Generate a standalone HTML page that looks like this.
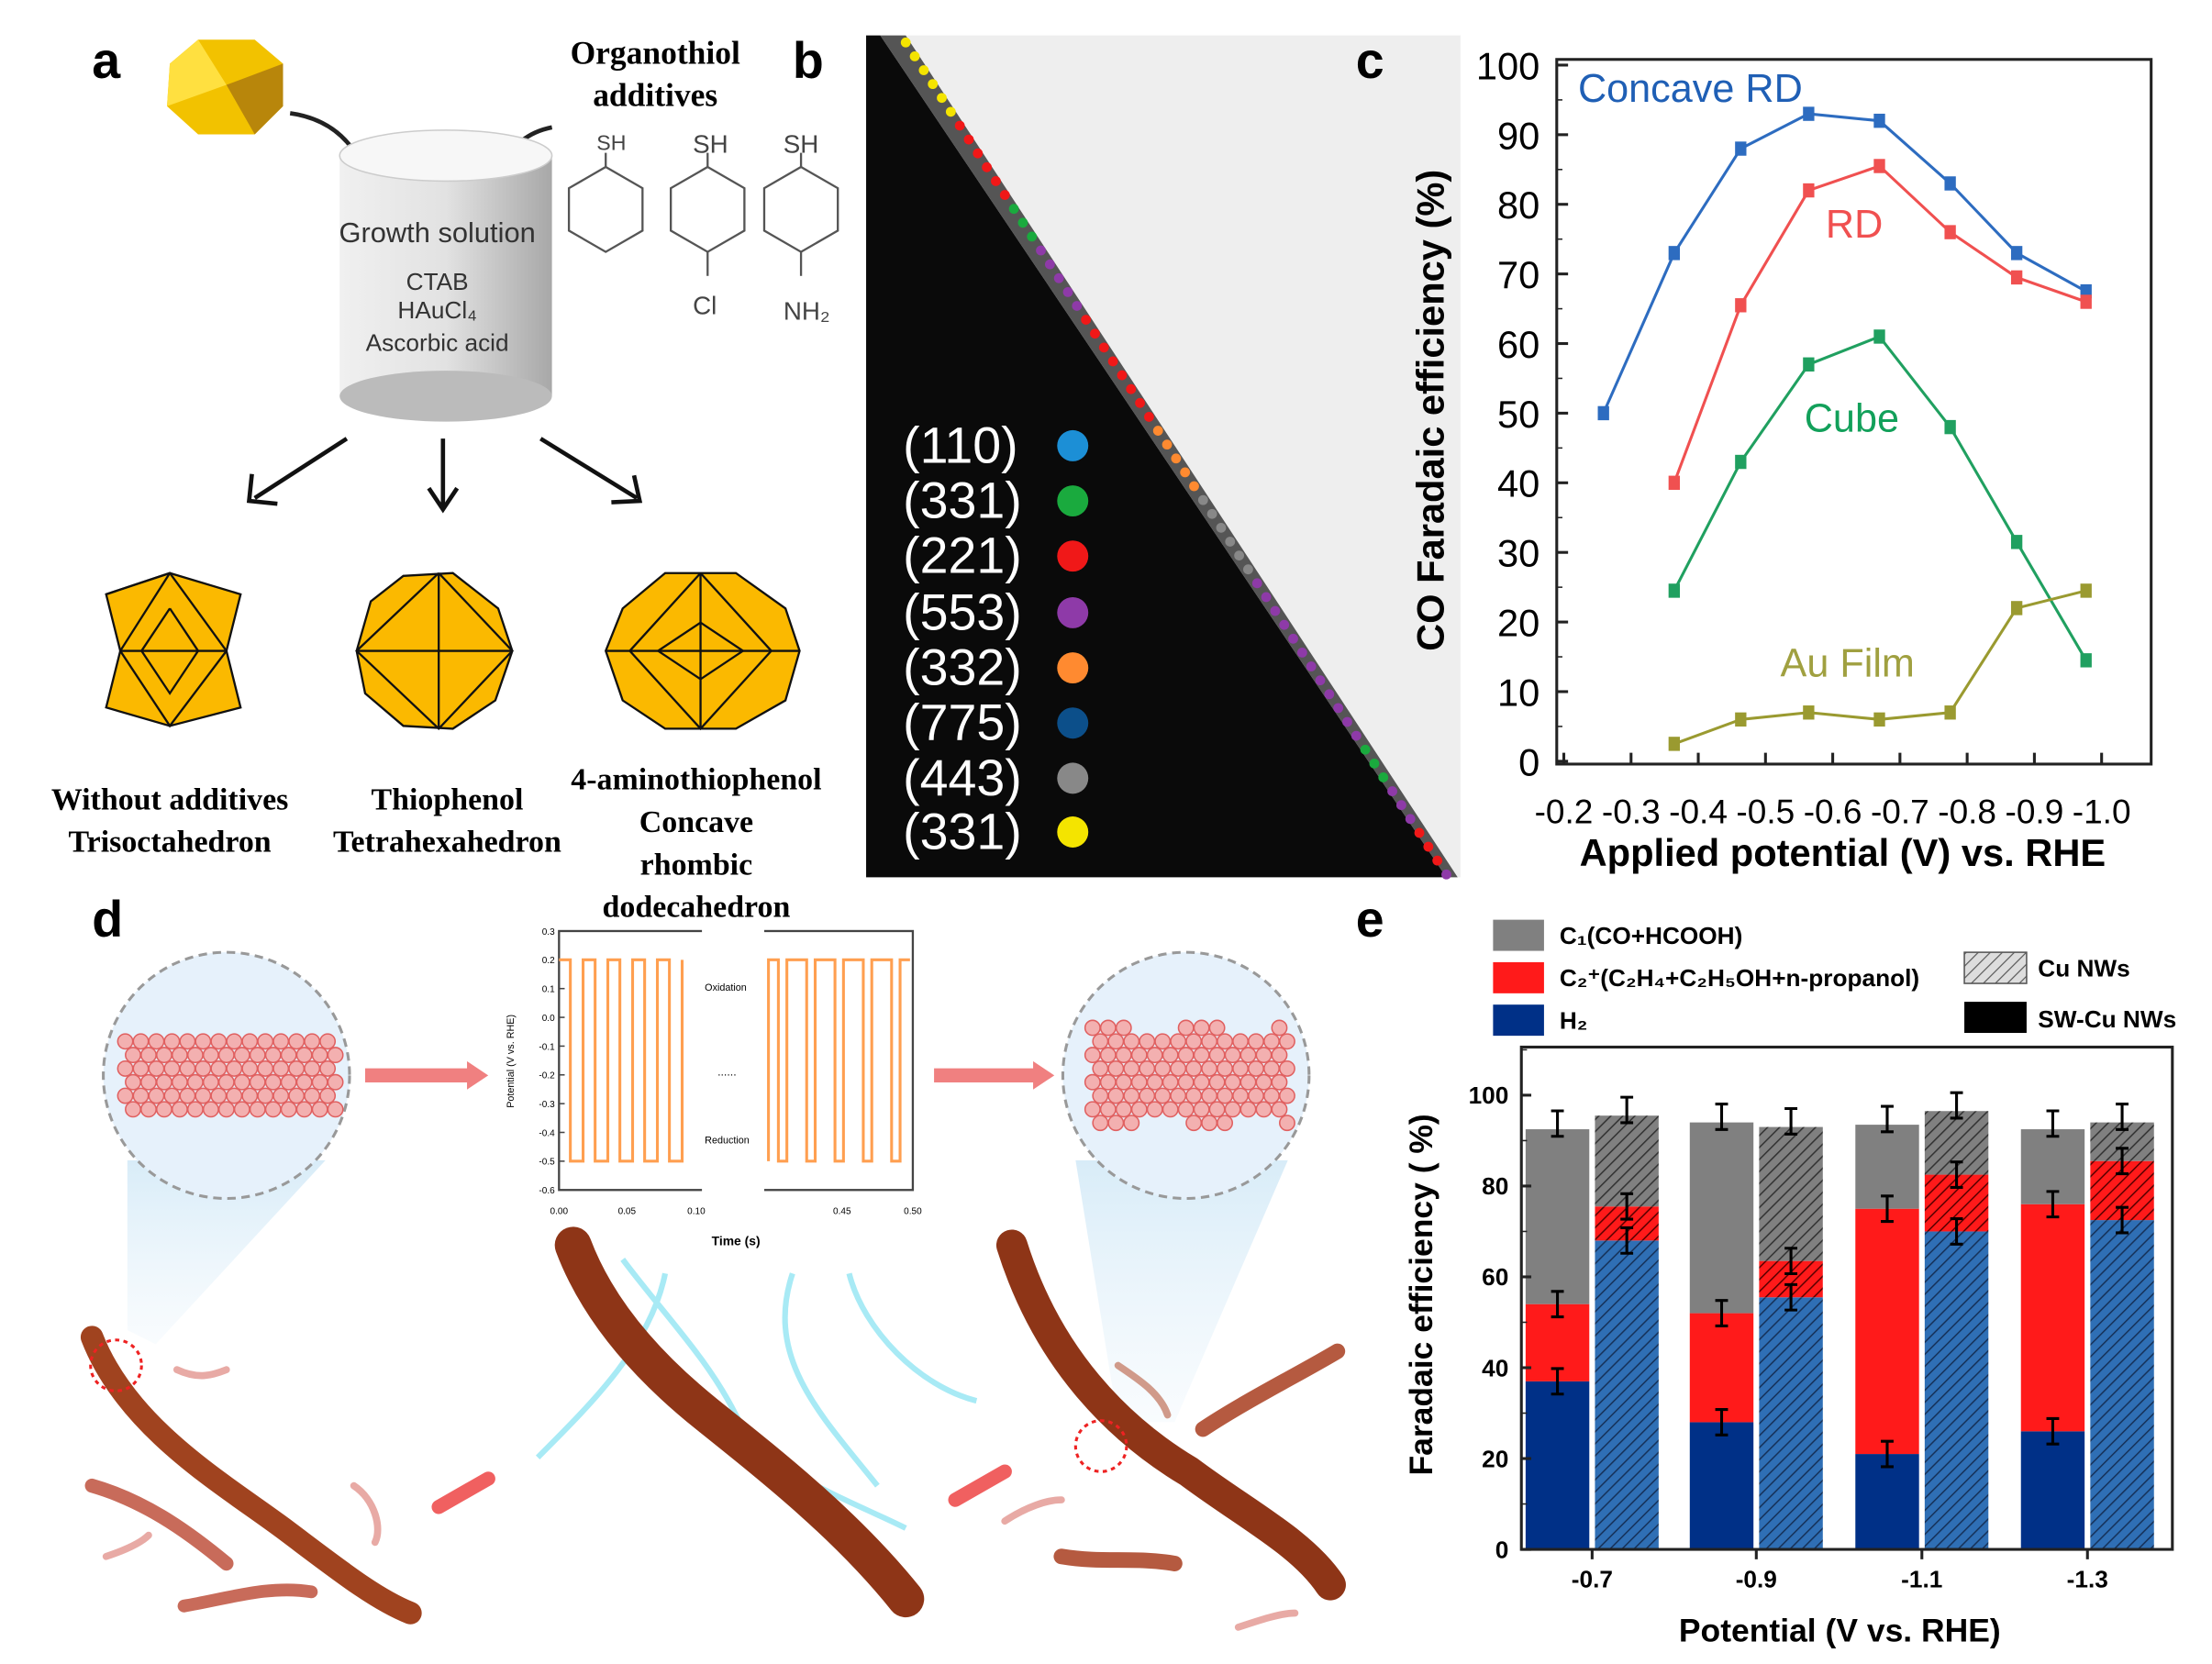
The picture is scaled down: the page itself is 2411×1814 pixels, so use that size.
<!DOCTYPE html>
<html><head><meta charset="utf-8"><style>
html,body{margin:0;padding:0;background:#fff}
svg{display:block}
text{font-family:"Liberation Sans",sans-serif}
.serif{font-family:"Liberation Serif",serif;font-weight:bold}
</style></head><body>
<svg id="s" width="2411" height="1814" viewBox="0 0 1563 1176" preserveAspectRatio="none" xmlns="http://www.w3.org/2000/svg">
<defs>
<pattern id="hb" width="6" height="6" patternUnits="userSpaceOnUse" patternTransform="rotate(45)"><rect width="6" height="6" fill="#2f6fb5"/><line x1="0" y1="0" x2="0" y2="6" stroke="#16325a" stroke-width="2"/></pattern>
<pattern id="hr" width="6" height="6" patternUnits="userSpaceOnUse" patternTransform="rotate(45)"><rect width="6" height="6" fill="#ff1a1a"/><line x1="0" y1="0" x2="0" y2="6" stroke="#5a0000" stroke-width="2"/></pattern>
<pattern id="hg" width="6" height="6" patternUnits="userSpaceOnUse" patternTransform="rotate(45)"><rect width="6" height="6" fill="#808080"/><line x1="0" y1="0" x2="0" y2="6" stroke="#333" stroke-width="2"/></pattern>
<pattern id="hl" width="6" height="6" patternUnits="userSpaceOnUse" patternTransform="rotate(45)"><rect width="6" height="6" fill="#ddd"/><line x1="0" y1="0" x2="0" y2="6" stroke="#555" stroke-width="1.5"/></pattern>
<linearGradient id="cyl" x1="0" x2="1"><stop offset="0" stop-color="#f0f0f0"/><stop offset="0.5" stop-color="#e2e2e2"/><stop offset="1" stop-color="#a8a8a8"/></linearGradient>
<linearGradient id="blu" x1="0" x2="0" y1="0" y2="1"><stop offset="0" stop-color="#d8ecf8"/><stop offset="1" stop-color="#eaf4fb" stop-opacity="0.3"/></linearGradient>
</defs>
<rect width="1563" height="1176" fill="#fff"/>

<!-- Panel a -->
<text x="65" y="55" font-size="36" font-weight="bold">a</text>
<polygon points="120,45 140,28 180,28 200,45 200,75 180,95 140,95 118,75" fill="#f2c200"/>
<polygon points="160,60 200,45 200,75 180,95" fill="#b8860b"/>
<polygon points="120,45 140,28 160,60 118,75" fill="#ffe040"/>
<path d="M205,80 Q240,85 255,115" fill="none" stroke="#222" stroke-width="3"/>
<path d="M390,90 Q365,95 355,118" fill="none" stroke="#222" stroke-width="3"/>
<text x="463" y="45" class="serif" font-size="23" text-anchor="middle">Organothiol</text>
<text x="463" y="75" class="serif" font-size="23" text-anchor="middle">additives</text>
<rect x="240" y="110" width="150" height="170" fill="url(#cyl)"/>
<ellipse cx="315" cy="280" rx="75" ry="18" fill="#bbb"/>
<ellipse cx="315" cy="110" rx="75" ry="18" fill="#f7f7f7" stroke="#ccc"/>
<text x="309" y="171" font-size="20" text-anchor="middle" fill="#333">Growth solution</text>
<text x="309" y="205" font-size="17" text-anchor="middle" fill="#333">CTAB</text>
<text x="309" y="225" font-size="17" text-anchor="middle" fill="#333">HAuCl₄</text>
<text x="309" y="248" font-size="17" text-anchor="middle" fill="#333">Ascorbic acid</text>
<g fill="none" stroke="#555" stroke-width="1.5">
<polygon points="428,118 454,133 454,163 428,178 402,163 402,133"/><line x1="428" y1="118" x2="428" y2="108"/>
<polygon points="500,118 526,133 526,163 500,178 474,163 474,133"/><line x1="500" y1="118" x2="500" y2="108"/><line x1="500" y1="178" x2="500" y2="195"/>
<polygon points="566,118 592,133 592,163 566,178 540,163 540,133"/><line x1="566" y1="118" x2="566" y2="108"/><line x1="566" y1="178" x2="566" y2="195"/>
</g>
<text x="432" y="106" font-size="15" text-anchor="middle" fill="#444">SH</text>
<text x="502" y="108" font-size="18" text-anchor="middle" fill="#444">SH</text>
<text x="566" y="108" font-size="18" text-anchor="middle" fill="#444">SH</text>
<text x="498" y="222" font-size="18" text-anchor="middle" fill="#444">Cl</text>
<text x="570" y="226" font-size="18" text-anchor="middle" fill="#444">NH₂</text>
<g stroke="#111" stroke-width="3" fill="none">
<line x1="245" y1="310" x2="180" y2="352"/><polyline points="178,335 176,354 196,356"/>
<line x1="313" y1="310" x2="313" y2="358"/><polyline points="303,345 313,360 323,345"/>
<line x1="382" y1="310" x2="450" y2="352"/><polyline points="432,355 452,354 448,336"/>
</g>
<g fill="#fbb900" stroke="#111" stroke-width="1.5">
<polygon points="75,420 120,405 170,420 160,460 170,500 120,513 75,500 85,460"/>
<line x1="85" y1="460" x2="160" y2="460"/><polyline points="75,420 120,405 160,460 120,513 85,460 120,405" fill="none"/><polyline points="120,430 140,460 120,490 100,460 120,430" fill="none"/>
<polygon points="285,407 320,405 352,430 362,460 350,495 320,515 285,513 258,490 252,460 262,425"/>
<line x1="252" y1="460" x2="362" y2="460"/><line x1="310" y1="405" x2="310" y2="515"/><polyline points="310,405 362,460 310,515 252,460 310,405" fill="none"/>
<polygon points="470,405 520,405 555,430 565,460 555,495 520,515 470,515 440,495 428,460 440,430"/>
<line x1="428" y1="460" x2="565" y2="460"/><polyline points="495,405 545,460 495,515 445,460 495,405" fill="none"/><polyline points="495,440 525,460 495,480 465,460 495,440" fill="none"/><line x1="495" y1="405" x2="495" y2="515"/>
</g>
<text x="120" y="572" class="serif" font-size="22" text-anchor="middle">Without  additives</text>
<text x="120" y="602" class="serif" font-size="22" text-anchor="middle">Trisoctahedron</text>
<text x="316" y="572" class="serif" font-size="22" text-anchor="middle">Thiophenol</text>
<text x="316" y="602" class="serif" font-size="22" text-anchor="middle">Tetrahexahedron</text>
<text x="492" y="558" class="serif" font-size="22" text-anchor="middle">4-aminothiophenol</text>
<text x="492" y="588" class="serif" font-size="22" text-anchor="middle">Concave</text>
<text x="492" y="618" class="serif" font-size="22" text-anchor="middle">rhombic</text>
<text x="492" y="648" class="serif" font-size="22" text-anchor="middle">dodecahedron</text>

<!-- Panel b -->
<text x="560" y="55" font-size="36" font-weight="bold">b</text>
<rect x="612" y="25" width="420" height="595" fill="#eeeeee"/>
<polygon points="612,25 622,25 1022,620 612,620" fill="#0a0a0a"/>
<polygon points="622,25 640,25 1030,620 1022,620" fill="#555"/>
<g id="dots"></g>
<g font-size="36" fill="#fff">
<text x="638" y="327">(110)</text><text x="638" y="366">(331)</text><text x="638" y="405">(221)</text><text x="638" y="445">(553)</text>
<text x="638" y="484">(332)</text><text x="638" y="523">(775)</text><text x="638" y="562">(443)</text><text x="638" y="600">(331)</text>
</g>
<g>
<circle cx="758" cy="315" r="11" fill="#1c8fd6"/><circle cx="758" cy="354" r="11" fill="#1aaa3e"/><circle cx="758" cy="393" r="11" fill="#f01818"/><circle cx="758" cy="433" r="11" fill="#8e3aa8"/>
<circle cx="758" cy="472" r="11" fill="#ff8a30"/><circle cx="758" cy="511" r="11" fill="#0c4f8a"/><circle cx="758" cy="550" r="11" fill="#888"/><circle cx="758" cy="588" r="11" fill="#f4e400"/>
</g>

<!-- Panel c -->
<text x="958" y="55" font-size="36" font-weight="bold">c</text>
<rect x="1100" y="42" width="420" height="498" fill="none" stroke="#222" stroke-width="2"/>
<g id="cax"></g>
<text transform="translate(1020,290) rotate(-90)" font-size="27" font-weight="bold" text-anchor="middle">CO Faradaic efficiency (%)</text>
<text x="1302" y="612" font-size="27" font-weight="bold" text-anchor="middle">Applied potential (V) vs. RHE</text>
<g id="cser"></g>
<text x="1115" y="72" font-size="28" fill="#1f5fb5">Concave RD</text>
<text x="1290" y="168" font-size="28" fill="#f05050">RD</text>
<text x="1275" y="305" font-size="28" fill="#12a05a">Cube</text>
<text x="1258" y="478" font-size="28" fill="#a0a040">Au Film</text>

<!-- Panel d -->
<text x="65" y="662" font-size="36" font-weight="bold">d</text>
<polygon points="90,820 230,820 110,950 90,940" fill="url(#blu)"/>
<polygon points="760,820 910,820 830,1005 790,1005" fill="url(#blu)"/>
<circle cx="160" cy="760" r="87" fill="#e6f1fb" stroke="#999" stroke-dasharray="6,4" stroke-width="2"/>
<circle cx="838" cy="760" r="87" fill="#e6f1fb" stroke="#999" stroke-dasharray="6,4" stroke-width="2"/>
<g id="atoms"></g>
<polygon points="258,755 330,755 330,750 345,760 330,770 330,765 258,765" fill="#f08080"/>
<polygon points="660,755 730,755 730,750 745,760 730,770 730,765 660,765" fill="#f08080"/>
<g id="inset"></g>
<path d="M440,890 C470,930 500,960 520,1000 C540,1040 600,1060 640,1080 M470,900 C460,950 420,990 380,1030 M560,900 C540,960 580,1000 620,1050 M600,900 C610,940 650,980 690,990" stroke="#a8eaf5" stroke-width="4" fill="none"/>
<g stroke-linecap="round" fill="none">
<path d="M65,945 C90,1010 160,1050 200,1080 C240,1110 265,1130 290,1140" stroke="#a0431f" stroke-width="16"/>
<path d="M65,1050 C100,1060 130,1080 160,1105" stroke="#c86b5a" stroke-width="10"/>
<path d="M130,1135 C160,1130 190,1120 220,1125" stroke="#c86b5a" stroke-width="9"/>
<path d="M125,968 C140,975 150,972 160,968" stroke="#e8aaa5" stroke-width="5"/>
<path d="M75,1100 C90,1095 100,1090 105,1085" stroke="#e8aaa5" stroke-width="5"/>
<path d="M250,1050 C265,1060 270,1080 265,1090" stroke="#e8aaa5" stroke-width="5"/>
<path d="M310,1065 L345,1045" stroke="#f06060" stroke-width="10"/>
<path d="M405,880 C420,920 450,960 500,1000 C550,1040 600,1080 640,1130" stroke="#8e3517" stroke-width="26"/>
<path d="M675,1060 L710,1040" stroke="#f06060" stroke-width="10"/>
<path d="M715,880 C740,960 790,1010 840,1040 C880,1070 920,1090 940,1120" stroke="#8e3517" stroke-width="22"/>
<path d="M850,1010 C880,990 920,970 945,955" stroke="#b55a40" stroke-width="11"/>
<path d="M750,1100 C780,1105 800,1100 830,1105" stroke="#b55a40" stroke-width="11"/>
<path d="M790,965 C805,975 820,985 825,1000" stroke="#d09a8a" stroke-width="5"/>
<path d="M710,1075 C725,1065 740,1060 750,1060" stroke="#e8aaa5" stroke-width="5"/>
<path d="M875,1150 C890,1145 905,1140 915,1140" stroke="#e8aaa5" stroke-width="5"/>
</g>
<circle cx="82" cy="965" r="18" fill="none" stroke="#e22" stroke-dasharray="3,3" stroke-width="2"/>
<circle cx="778" cy="1022" r="18" fill="none" stroke="#e22" stroke-dasharray="3,3" stroke-width="2"/>

<!-- Panel e -->
<text x="958" y="662" font-size="36" font-weight="bold">e</text>
<rect x="1055" y="650" width="36" height="22" fill="#808080"/><text x="1102" y="667" font-size="17" font-weight="bold">C₁(CO+HCOOH)</text>
<rect x="1055" y="680" width="36" height="22" fill="#ff1a1a"/><text x="1102" y="697" font-size="17" font-weight="bold">C₂⁺(C₂H₄+C₂H₅OH+n-propanol)</text>
<rect x="1055" y="710" width="36" height="22" fill="#003087"/><text x="1102" y="727" font-size="17" font-weight="bold">H₂</text>
<rect x="1388" y="673" width="44" height="22" fill="url(#hl)" stroke="#555"/><text x="1440" y="690" font-size="17" font-weight="bold">Cu NWs</text>
<rect x="1388" y="708" width="44" height="22" fill="#000"/><text x="1440" y="726" font-size="17" font-weight="bold">SW-Cu NWs</text>
<g id="bars"></g>
<rect x="1075" y="740" width="460" height="355" fill="none" stroke="#222" stroke-width="2"/>
<g id="eax"></g>
<text transform="translate(1012,915) rotate(-90)" font-size="23" font-weight="bold" text-anchor="middle">Faradaic efficiency ( %)</text>
<text x="1300" y="1160" font-size="23" font-weight="bold" text-anchor="middle">Potential (V vs. RHE)</text>
</svg>
<script>
const NS="http://www.w3.org/2000/svg";
function el(p,t,a,txt){const e=document.createElementNS(NS,t);for(const k in a)e.setAttribute(k,a[k]);if(txt!==undefined)e.textContent=txt;document.getElementById(p).appendChild(e);return e;}
// dots in b
const dc=[["#f4e400",6],["#f01818",6],["#1aaa3e",3],["#8e3aa8",5],["#f01818",8],["#ff8a30",5],["#888",6],["#8e3aa8",12],["#1aaa3e",3],["#8e3aa8",3],["#f01818",3],["#8e3aa8",1]];
let t=0;const N=dc.reduce((a,b)=>a+b[1],0);
dc.forEach(([c,n])=>{for(let i=0;i<n;i++){const f=t/(N-1);el("dots","circle",{cx:640+f*382,cy:30+f*588,r:3.5,fill:c});t++;}});
// c axes
for(let v=0;v<=100;v+=10){const y=538-v*4.92;el("cax","line",{x1:1100,y1:y,x2:1108,y2:y,stroke:"#222","stroke-width":2});el("cax","text",{x:1088,y:y+10,"font-size":27,"text-anchor":"end"},v);if(v<100)el("cax","line",{x1:1100,y1:y-24.6,x2:1104,y2:y-24.6,stroke:"#222"});}
for(let i=0;i<=8;i++){const x=1105+47.5*i;el("cax","line",{x1:x,y1:540,x2:x,y2:532,stroke:"#222","stroke-width":2});el("cax","text",{x:x,y:582,"font-size":24,"text-anchor":"middle"},"-"+(0.2+i*0.1).toFixed(1));}
const X=[1133,1183,1230,1278,1328,1378,1425,1474];
function ser(xs,ys,c){el("cser","polyline",{points:xs.map((x,i)=>x+","+(538-ys[i]*4.92)).join(" "),fill:"none",stroke:c,"stroke-width":2});xs.forEach((x,i)=>el("cser","rect",{x:x-4,y:538-ys[i]*4.92-5,width:8,height:10,fill:c}));}
ser(X,[50,73,88,93,92,83,73,67.5],"#2d6cc0");
ser(X.slice(1),[40,65.5,82,85.5,76,69.5,66],"#f05050");
ser(X.slice(1),[24.5,43,57,61,48,31.5,14.5],"#20a060");
ser(X.slice(1),[2.5,6,7,6,7,22,24.5],"#9a9a30");
// atoms
function lattice(cx,cy,rows,cols,wavy){for(let r=0;r<rows;r++)for(let c=0;c<cols;c++){let x=cx-(cols-1)*5.5+c*11+(r%2?5.5:0);let y=cy-(rows-1)*4.8+r*9.6;if(wavy){const k=Math.floor(c/3)%2;if((r==0||r==rows-1)&&k)continue;}el("atoms","circle",{cx:x,cy:y,r:5.3,fill:"#f3b0b0",stroke:"#e06060","stroke-width":1});}}
lattice(160,760,6,14,false);lattice(838,760,8,13,true);
// inset
const I="inset";el(I,"rect",{x:395,y:658,width:250,height:183,fill:"#fff",stroke:"#444","stroke-width":1.5});
const yv=v=>658+(0.3-v)*203.3;
for(let v=-6;v<=3;v++){const y=yv(v/10);el(I,"line",{x1:395,y1:y,x2:399,y2:y,stroke:"#444"});el(I,"text",{x:392,y:y+2.5,"font-size":6.5,"text-anchor":"end"},(v/10).toFixed(1));}
let p="M395,"+yv(0.2);let x=395;const hi=yv(0.2),lo=yv(-0.5);
for(let k=0;k<5;k++){p+=` L${x+8},${hi} L${x+8},${lo} L${x+17},${lo} L${x+17},${hi}`;x+=17.5;}
p+=" M543,"+lo+" L543,"+hi;x=543;
for(let k=0;k<5;k++){p+=` L${x+7},${hi} L${x+7},${lo} L${x+13},${lo} L${x+13},${hi} L${x+20},${hi}`;x+=20;}
el(I,"path",{d:p,fill:"none",stroke:"#ff9f50","stroke-width":2});
el(I,"rect",{x:496,y:656,width:44,height:4,fill:"#fff"});el(I,"rect",{x:496,y:839,width:44,height:4,fill:"#fff"});
el(I,"text",{x:498,y:700,"font-size":7},"Oxidation");el(I,"text",{x:498,y:808,"font-size":7},"Reduction");el(I,"text",{x:507,y:760,"font-size":8},"......");
[["0.00",395],["0.05",443],["0.10",492],["0.45",595],["0.50",645]].forEach(a=>el(I,"text",{x:a[1],y:858,"font-size":6.5,"text-anchor":"middle"},a[0]));
el(I,"text",{x:520,y:880,"font-size":9,"font-weight":"bold","text-anchor":"middle"},"Time (s)");
el(I,"text",{transform:"translate(363,750) rotate(-90)","font-size":7,"text-anchor":"middle"},"Potential (V vs. RHE)");
// bars e
const ye=v=>1095-v*3.21;const C=[1127,1243,1360,1477];
const L=[[37,54,92.5],[28,52,94],[21,75,93.5],[26,76,92.5]],R=[[68,75.5,95.5],[55.5,63.5,93],[70,82.5,96.5],[72.5,85.5,94]];
function bar(x,d,fills){let prev=0;d.forEach((v,i)=>{el("bars","rect",{x:x,y:ye(v),width:45,height:(v-prev)*3.21,fill:fills[i]});prev=v;});d.forEach(v=>{const y=ye(v)+(v>90?-4:0);el("bars","path",{d:`M${x+22.5},${y-9} v18 M${x+18},${y-9} h9 M${x+18},${y+9} h9`,stroke:"#000","stroke-width":2,fill:"none"});});}
C.forEach((c,i)=>{bar(c-49,L[i],["#003087","#ff1a1a","#808080"]);bar(c,R[i],["url(#hb)","url(#hr)","url(#hg)"]);});
for(let v=0;v<=100;v+=20){const y=ye(v);el("eax","line",{x1:1075,y1:y,x2:1082,y2:y,stroke:"#222","stroke-width":2});el("eax","text",{x:1066,y:y+6,"font-size":17,"font-weight":"bold","text-anchor":"end"},v);el("eax","line",{x1:1075,y1:y-32.1,x2:1079,y2:y-32.1,stroke:"#222"});}
["-0.7","-0.9","-1.1","-1.3"].forEach((s,i)=>{el("eax","line",{x1:C[i]-2,y1:1095,x2:C[i]-2,y2:1102,stroke:"#222","stroke-width":2});el("eax","text",{x:C[i]-2,y:1122,"font-size":17,"font-weight":"bold","text-anchor":"middle"},s);});
</script>
</body></html>
